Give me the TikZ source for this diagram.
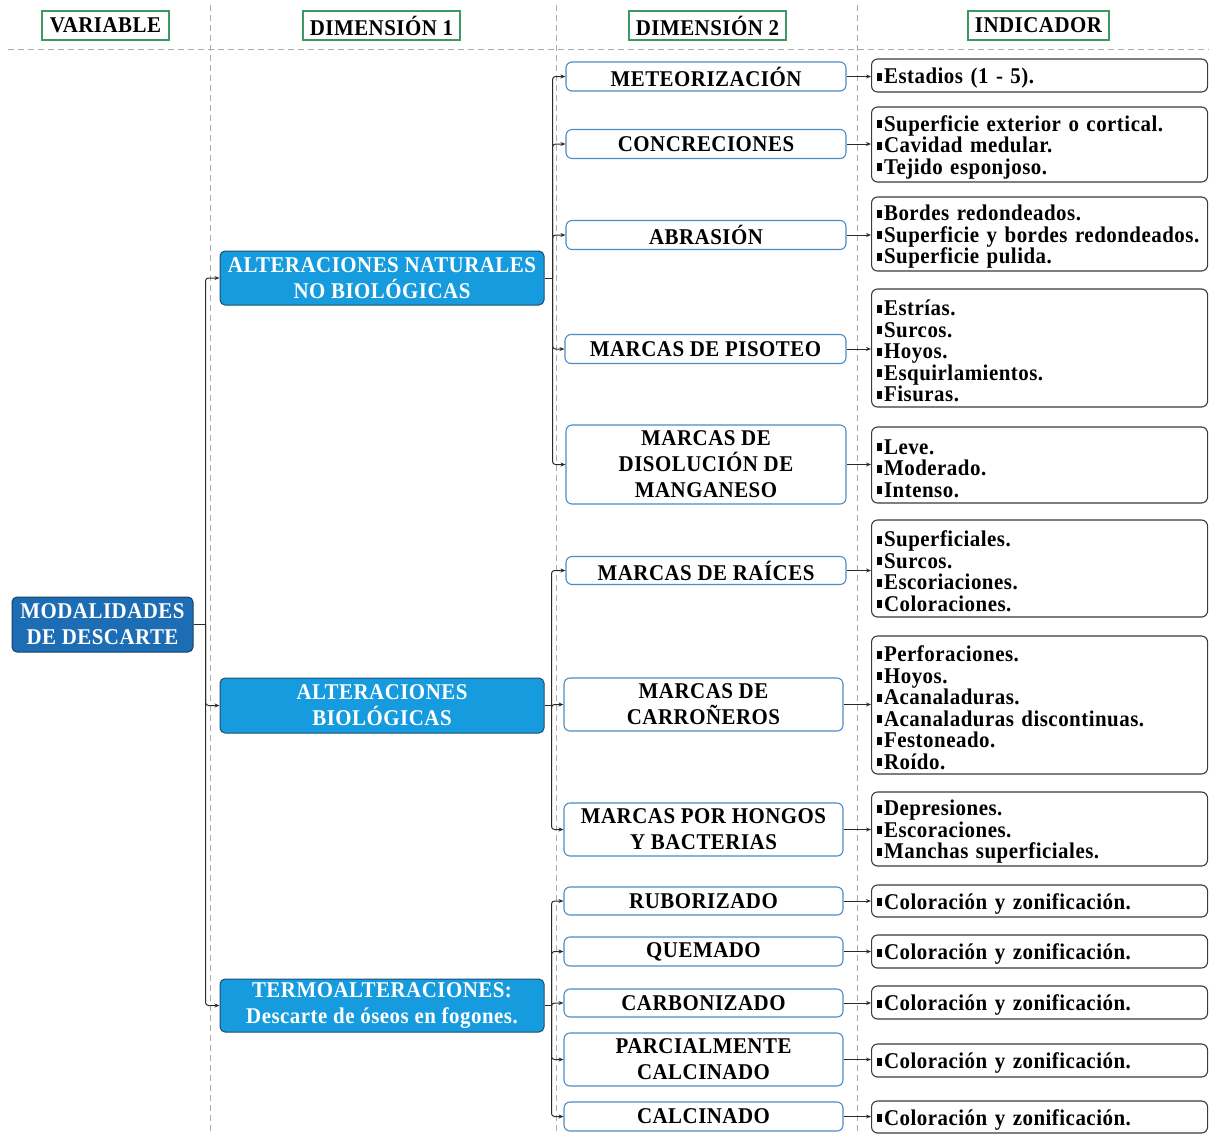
\documentclass[tikz,border=0pt]{standalone}
\usepackage{fontspec}
\setmainfont{Liberation Serif}[FakeStretch=0.93, LetterSpace=2.2]
\usetikzlibrary{arrows.meta,calc}

\definecolor{gridgray}{HTML}{ABABAB}
\definecolor{hdrgreen}{HTML}{3A9A62}
\definecolor{varblue}{HTML}{1D6DB5}
\definecolor{varedge}{HTML}{183F63}
\definecolor{dimblue}{HTML}{169BDF}
\definecolor{dimedge}{HTML}{1F4C70}
\definecolor{subedge}{HTML}{4C8BC6}
\definecolor{indedge}{HTML}{3A3A3A}
\definecolor{linkgray}{HTML}{2A2A2A}

\newcommand\sqbul{\rule[0.28ex]{0.24em}{0.36em}\kern1.6pt}

\begin{document}
\begin{tikzpicture}[x=1pt,y=-1pt,
  every node/.style={font=\fontsize{22.5}{21.5}\selectfont\bfseries, inner sep=0},
  grid/.style={draw=gridgray, line width=0.8pt, dash pattern=on 6pt off 4pt},
  hdr/.style={draw=hdrgreen, line width=1.3pt, fill=white, minimum height=29},
  varnode/.style={fill=varblue, draw=varedge, line width=1pt, rounded corners=5pt,
    text=white, align=center, minimum width=181, minimum height=55,
    font=\fontsize{22.5}{26}\selectfont\bfseries},
  dimnode/.style={fill=dimblue, draw=dimedge, line width=1pt, rounded corners=5pt,
    text=white, align=center, minimum width=324,
    font=\fontsize{22.5}{26}\selectfont\bfseries},
  subnode/.style={fill=white, draw=subedge, line width=1.1pt, rounded corners=6pt,
    align=center, minimum width=280,
    font=\fontsize{22.5}{26}\selectfont\bfseries},
  indnode/.style={fill=white, draw=indedge, line width=1.1pt, rounded corners=6pt,
    anchor=west, align=left, text width=325, inner xsep=5.5pt,
    execute at begin node={\rule{0pt}{21.5pt}}},
  link/.style={draw=linkgray, line width=1pt},
  arr/.style={link, -{Stealth[length=5pt,width=4pt]}},
]
\useasboundingbox (0,0) rectangle (1209,1133);

% column guides
\draw[grid] (8,49) -- (1209,49);
\draw[grid] (210,5) -- (210,1133);
\draw[grid] (556,5) -- (556,1133);
\draw[grid] (857,5) -- (857,1133);

% column headings
\node[hdr, minimum width=127] (hvar) at (105.5,25.5) {VARIABLE};
\node[hdr, minimum width=157] (hd1) at (381.5,25.5) {DIMENSIÓN 1};
\node[hdr, minimum width=157] (hd2) at (707.5,25.5) {DIMENSIÓN 2};
\node[hdr, minimum width=141] (hind) at (1038.5,25.5) {INDICADOR};

% variable
\node[varnode] (mod) at (102.5,624.5) {MODALIDADES\\DE DESCARTE};

% first dimension
\node[dimnode, minimum height=54] (d1a) at (382,278) {ALTERACIONES NATURALES\\NO BIOLÓGICAS};
\node[dimnode, minimum height=55] (d1b) at (382,705.5) {ALTERACIONES\\BIOLÓGICAS};
\node[dimnode, minimum height=53] (d1c) at (382,1005.5) {TERMOALTERACIONES:\\Descarte de óseos en fogones.};

% second dimension
\node[subnode, minimum height=29] (met) at (706,76.5) {METEORIZACIÓN};
\node[subnode, minimum height=29] (con) at (706,144) {CONCRECIONES};
\node[subnode, minimum height=29] (abr) at (706,235) {ABRASIÓN};
\node[subnode, minimum height=29, minimum width=281] (pis) at (705.5,349) {MARCAS DE PISOTEO};
\node[subnode, minimum height=79] (man) at (706,464.5) {MARCAS DE\\DISOLUCIÓN DE\\MANGANESO};
\node[subnode, minimum height=28] (rai) at (706,570.5) {MARCAS DE RAÍCES};
\node[subnode, minimum height=53, minimum width=279] (car) at (703.5,704.5) {MARCAS DE\\CARROÑEROS};
\node[subnode, minimum height=53, minimum width=279] (hon) at (703.5,829.5) {MARCAS POR HONGOS\\Y BACTERIAS};
\node[subnode, minimum height=28, minimum width=279] (rub) at (703.5,901) {RUBORIZADO};
\node[subnode, minimum height=29, minimum width=279] (que) at (703.5,951.5) {QUEMADO};
\node[subnode, minimum height=28, minimum width=279] (cbz) at (703.5,1003) {CARBONIZADO};
\node[subnode, minimum height=53, minimum width=279] (pca) at (703.5,1059.5) {PARCIALMENTE\\CALCINADO};
\node[subnode, minimum height=29, minimum width=279] (cal) at (703.5,1116.5) {CALCINADO};

% indicators
\node[indnode, minimum height=33] (imet) at (871,75.5) {\sqbul Estadios (1 - 5).};
\node[indnode, minimum height=75] (icon) at (871,144.5) {\sqbul Superficie exterior o cortical.\\\sqbul Cavidad medular.\\\sqbul Tejido esponjoso.};
\node[indnode, minimum height=74] (iabr) at (871,234) {\sqbul Bordes redondeados.\\\sqbul Superficie y bordes redondeados.\\\sqbul Superficie pulida.};
\node[indnode, minimum height=118] (ipis) at (871,348) {\sqbul Estrías.\\\sqbul Surcos.\\\sqbul Hoyos.\\\sqbul Esquirlamientos.\\\sqbul Fisuras.};
\node[indnode, minimum height=76] (iman) at (871,465) {\sqbul Leve.\\\sqbul Moderado.\\\sqbul Intenso.};
\node[indnode, minimum height=97] (irai) at (871,568.5) {\sqbul Superficiales.\\\sqbul Surcos.\\\sqbul Escoriaciones.\\\sqbul Coloraciones.};
\node[indnode, minimum height=138] (icar) at (871,705) {\sqbul Perforaciones.\\\sqbul Hoyos.\\\sqbul Acanaladuras.\\\sqbul Acanaladuras discontinuas.\\\sqbul Festoneado.\\\sqbul Roído.};
\node[indnode, minimum height=74] (ihon) at (871,829) {\sqbul Depresiones.\\\sqbul Escoraciones.\\\sqbul Manchas superficiales.};
\node[indnode, minimum height=32] (irub) at (871,901) {\sqbul Coloración y zonificación.};
\node[indnode, minimum height=33] (ique) at (871,951.5) {\sqbul Coloración y zonificación.};
\node[indnode, minimum height=33] (icbz) at (871,1002.5) {\sqbul Coloración y zonificación.};
\node[indnode, minimum height=33] (ipca) at (871,1060.5) {\sqbul Coloración y zonificación.};
\node[indnode, minimum height=32] (ical) at (871,1117) {\sqbul Coloración y zonificación.};

% variable to first dimension
\coordinate (jm) at ($(mod.east)+(12,0)$);
\draw[link] (mod.east) -- (jm);
\foreach \t in {d1a,d1b,d1c}
  \draw[arr, rounded corners=3pt] (jm) |- (\t.west);

% first dimension to second dimension
\coordinate (ja) at ($(d1a.east)+(8,0)$);
\draw[link] (d1a.east) -- (ja);
\foreach \t in {met,con,abr,pis,man}
  \draw[arr, rounded corners=3pt] (ja) |- (\t.west);

\coordinate (jb) at ($(d1b.east)+(7,0)$);
\draw[link] (d1b.east) -- (jb);
\foreach \t in {rai,car,hon}
  \draw[arr, rounded corners=3pt] (jb) |- (\t.west);

\coordinate (jc) at ($(d1c.east)+(7,0)$);
\draw[link] (d1c.east) -- (jc);
\foreach \t in {rub,que,cbz,pca,cal}
  \draw[arr, rounded corners=3pt] (jc) |- (\t.west);

% second dimension to indicators
\foreach \s/\t in {met/imet,con/icon,abr/iabr,pis/ipis,man/iman,rai/irai,car/icar,
                   hon/ihon,rub/irub,que/ique,cbz/icbz,pca/ipca,cal/ical}
  \draw[arr] (\s.east) -- (\s.east -| \t.west);

\end{tikzpicture}
\end{document}
